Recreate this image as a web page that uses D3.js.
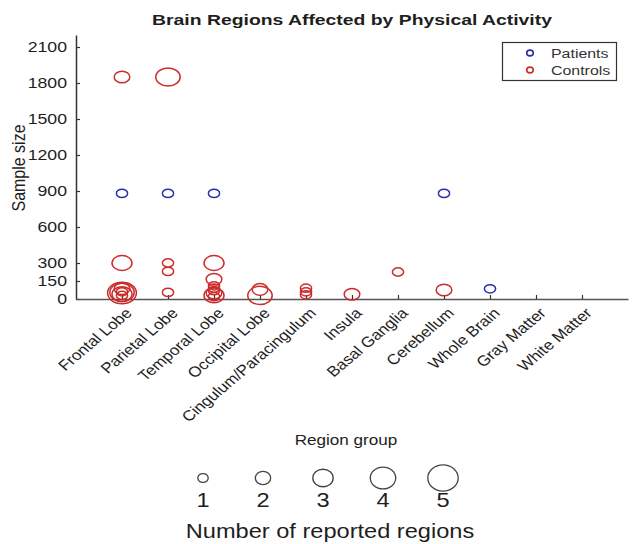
<!DOCTYPE html>
<html>
<head>
<meta charset="utf-8">
<script src="https://cdn.jsdelivr.net/npm/d3@7"></script>
<style>
  body { margin: 0; background: #fff; }
  svg { display: block; font-family: "Liberation Sans", Arial, Helvetica, sans-serif; }
</style>
</head>
<body>
<svg id="chart" width="634" height="544"></svg>
<script>
// Brain regions on the x axis (positions 1..11)
const regions = [
  "Frontal Lobe", "Parietal Lobe", "Temporal Lobe", "Occipital Lobe",
  "Cingulum/Paracingulum", "Insula", "Basal Ganglia", "Cerebellum",
  "Whole Brain", "Gray Matter", "White Matter"
];
const yTicks = [0, 150, 300, 600, 900, 1200, 1500, 1800, 2100];

// Control studies: region, sample size, number of reported regions
const controlRegion = [
  "Frontal Lobe", "Frontal Lobe", "Frontal Lobe", "Frontal Lobe", "Frontal Lobe", "Frontal Lobe", "Frontal Lobe", "Frontal Lobe",
  "Parietal Lobe", "Parietal Lobe", "Parietal Lobe", "Parietal Lobe",
  "Temporal Lobe", "Temporal Lobe", "Temporal Lobe", "Temporal Lobe", "Temporal Lobe", "Temporal Lobe", "Temporal Lobe", "Temporal Lobe",
  "Occipital Lobe", "Occipital Lobe",
  "Cingulum/Paracingulum", "Cingulum/Paracingulum", "Cingulum/Paracingulum",
  "Insula", "Basal Ganglia", "Cerebellum"
];
const controlSample = [
  1850, 300, 50, 55, 40, 85, 60, 30,
  1850, 300, 230, 55,
  300, 165, 110, 90, 70, 50, 30, 20,
  30, 80,
  90, 60, 35,
  40, 225, 75
];
const controlCount = [
  2, 3, 5, 4, 3, 2, 1, 1,
  4, 1, 1, 1,
  3, 2, 1, 1, 1, 2, 3, 1,
  4, 2,
  1, 1, 1,
  2, 1, 2
];

// Patient studies
const patientRegion = ["Frontal Lobe", "Parietal Lobe", "Temporal Lobe", "Cerebellum", "Whole Brain"];
const patientSample = [880, 880, 880, 880, 85];
const patientCount = [1, 1, 1, 1, 1];

const sizeLevels = [1, 2, 3, 4, 5];

const colors = { Patients: "#2e2eaa", Controls: "#cc2c2c" };
const ink = "#1e1e1e";
const S = 1.18; // horizontal widening applied to the lettering

const svg = d3.select("#chart");
const plot = { left: 76, right: 628, top: 35, bottom: 299 };

const x = d3.scaleLinear().domain([0, regions.length + 1]).range([plot.left, plot.right]);
const y = d3.scaleLinear().domain([0, 2200]).range([plot.bottom, plot.top]);
const xPos = name => x(regions.indexOf(name) + 1);

// marker size in the plot (horizontal radius), ellipse aspect as rendered
const rx = d3.scaleLinear().domain([1, 5]).range([5.6, 14.4]);
const aspect = 1.35;

// text placed at (px,py), widened horizontally, optionally rotated
function label(parent, px, py, str, size, opts = {}) {
  const k = opts.stretch || S;
  return parent.append("text")
    .attr("transform", `translate(${px},${py}) scale(${k},1)` + (opts.rotate ? ` rotate(${opts.rotate})` : ""))
    .attr("text-anchor", opts.anchor || "middle")
    .attr("font-size", size)
    .attr("font-weight", opts.bold ? "bold" : null)
    .attr("fill", opts.fill || ink)
    .text(str);
}

// Title
label(svg, (plot.left + plot.right) / 2, 25, "Brain Regions Affected by Physical Activity", 15.5,
  { bold: true, stretch: 1.25 });

// Y axis
const yAxis = svg.append("g")
  .attr("transform", `translate(${plot.left},0)`)
  .call(d3.axisLeft(y).tickValues(yTicks).tickFormat(d3.format("d"))
    .tickSizeInner(-4).tickSizeOuter(0));
yAxis.select(".domain").attr("stroke", "#333").attr("stroke-width", 1.5);
yAxis.selectAll(".tick line").attr("stroke", "#333").attr("stroke-width", 1.2);
yAxis.selectAll(".tick text")
  .attr("font-size", 15).attr("fill", ink)
  .attr("font-family", "Liberation Sans, Arial, sans-serif")
  .attr("transform", `scale(${S},1)`)
  .attr("x", -9 / S);

label(svg, 25, (plot.top + plot.bottom) / 2 + 1, "Sample size", 16, { rotate: -90 });

// X axis; region labels are drawn separately, slanted
const xAxis = svg.append("g")
  .attr("transform", `translate(0,${plot.bottom})`)
  .call(d3.axisBottom(x)
    .tickValues(d3.range(1, regions.length + 1))
    .tickFormat("")
    .tickSizeInner(-4).tickSizeOuter(0));
xAxis.select(".domain").attr("stroke", "#555").attr("stroke-width", 1.5);
xAxis.selectAll(".tick line").attr("stroke", "#333").attr("stroke-width", 1.2);

const xl = svg.append("g");
regions.forEach((r, i) => {
  label(xl, x(i + 1) + 11, plot.bottom + 15, r, 14.5, { anchor: "end", rotate: -45 });
});

// Data points
function drawSeries(regionArr, sampleArr, countArr, color) {
  const pts = regionArr.map((r, i) => ({ r, s: sampleArr[i], c: countArr[i] }));
  svg.append("g").selectAll("ellipse").data(pts).join("ellipse")
    .attr("cx", d => xPos(d.r))
    .attr("cy", d => y(d.s))
    .attr("rx", d => rx(d.c))
    .attr("ry", d => rx(d.c) / aspect)
    .attr("fill", "none")
    .attr("stroke", color)
    .attr("stroke-width", 1.5);
}
drawSeries(controlRegion, controlSample, controlCount, colors.Controls);
drawSeries(patientRegion, patientSample, patientCount, colors.Patients);

// Series legend
const lg = svg.append("g");
lg.append("rect")
  .attr("x", 502.5).attr("y", 42.5).attr("width", 114).attr("height", 38)
  .attr("fill", "#fff").attr("stroke", "#333").attr("stroke-width", 1.2);
[["Patients", 54], ["Controls", 71]].forEach(([name, ly]) => {
  lg.append("ellipse").attr("cx", 530).attr("cy", ly - 1)
    .attr("rx", 3.3).attr("ry", 2.9)
    .attr("fill", "none").attr("stroke", colors[name]).attr("stroke-width", 1.6);
  label(lg, 551, ly + 4, name, 13.5, { anchor: "start", fill: "#333" });
});

// Region group caption
label(svg, 346, 445, "Region group", 14.5);

// Size legend
const sx = d3.scaleLinear().domain([1, 5]).range([203, 443]);
const lrx = d3.scaleLinear().domain([1, 5]).range([5.2, 15.2]);
const sl = svg.append("g");
sl.selectAll("ellipse").data(sizeLevels).join("ellipse")
  .attr("cx", d => sx(d)).attr("cy", 478)
  .attr("rx", d => lrx(d)).attr("ry", d => lrx(d) * 0.86)
  .attr("fill", "none").attr("stroke", "#444").attr("stroke-width", 1.3);
sizeLevels.forEach(d => label(sl, sx(d), 507, String(d), 20));
label(svg, 330, 538, "Number of reported regions", 20);
</script>
</body>
</html>
